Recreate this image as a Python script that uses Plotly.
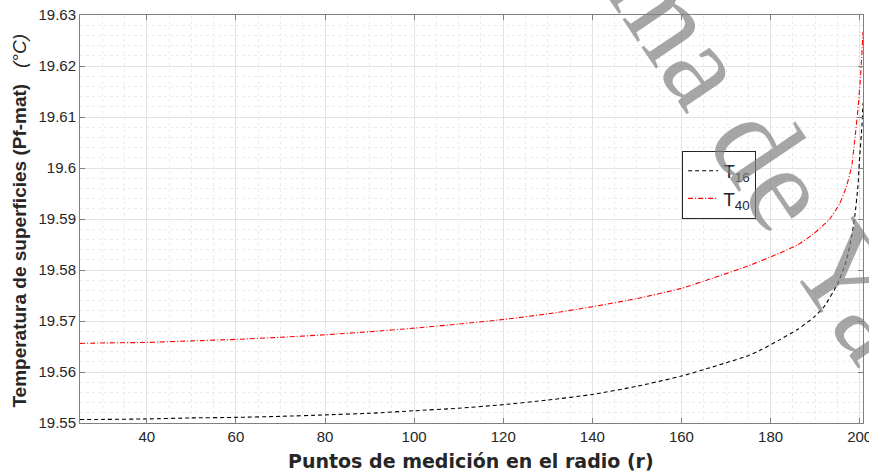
import plotly.graph_objects as go

# Radial measurement points and surface temperatures (°C)
r_t16 = [25, 30, 40, 50, 60, 70, 80, 90, 100, 110, 120, 130, 140, 150, 160, 167,
         170, 175, 178, 182, 186, 189.8, 192, 195, 197, 198.2, 198.9, 199.6, 200,
         200.5, 200.75]
t16 = [19.5507, 19.5507, 19.5508, 19.5510, 19.5511, 19.5513, 19.5516, 19.5519,
       19.5524, 19.5529, 19.5536, 19.5545, 19.5556, 19.5572, 19.5592, 19.5610,
       19.5618, 19.5632, 19.5644, 19.5663, 19.5683, 19.5708, 19.5728, 19.5772,
       19.5818, 19.5866, 19.5905, 19.5963, 19.6022, 19.6081, 19.6127]

r_t40 = [25, 30, 40, 50, 60, 70, 80, 90, 100, 110, 120, 130, 140, 150, 160, 167,
         175, 182, 186, 189.5, 193.3, 195.5, 197, 198.2, 198.9, 199.6, 200.2, 200.5,
         200.75]
t40 = [19.5656, 19.5657, 19.5658, 19.5661, 19.5664, 19.5668, 19.5673, 19.5679,
       19.5686, 19.5694, 19.5703, 19.5714, 19.5728, 19.5744, 19.5764, 19.5784,
       19.5808, 19.5833, 19.5849, 19.5870, 19.5900, 19.5930, 19.5963, 19.6003,
       19.6055, 19.6114, 19.6179, 19.6225, 19.6267]

x_ticks = [40, 60, 80, 100, 120, 140, 160, 180, 200]
y_ticks = [19.55, 19.56, 19.57, 19.58, 19.59, 19.60, 19.61, 19.62, 19.63]
y_ticktext = ["19.55", "19.56", "19.57", "19.58", "19.59", "19.6", "19.61", "19.62", "19.63"]

FONT = "Liberation Sans, Arial, sans-serif"
AXIS_COLOR = "#808080"

fig = go.Figure()
fig.add_trace(go.Scatter(
    x=r_t16, y=t16, mode="lines", name="T<sub>16</sub>",
    line=dict(color="black", width=1.1, dash="4px,3px", shape="spline", smoothing=0.5),
))
fig.add_trace(go.Scatter(
    x=r_t40, y=t40, mode="lines", name="T<sub>40</sub>",
    line=dict(color="red", width=1.1, dash="5px,2px,1px,2px", shape="spline", smoothing=0.5),
))

axis_common = dict(
    showline=True, linecolor=AXIS_COLOR, linewidth=1, mirror="ticks",
    ticks="inside", ticklen=5, tickcolor=AXIS_COLOR, tickwidth=1,
    showgrid=True, gridcolor="#e3e3e3", gridwidth=1, zeroline=False,
    tickfont=dict(family=FONT, size=15, color="#262626"),
    ticklabeloverflow="allow", automargin=False,
)

fig.update_xaxes(
    range=[25, 200.75], tickvals=x_ticks,
    minor=dict(dtick=5, showgrid=True, gridcolor="#ececec", griddash="dot", ticks=""),
    **axis_common,
)
fig.update_yaxes(
    range=[19.55, 19.63], tickvals=y_ticks, ticktext=y_ticktext,
    minor=dict(dtick=0.002, showgrid=True, gridcolor="#ececec", griddash="dot", ticks=""),
    **axis_common,
)

fig.update_layout(
    width=869, height=471,
    margin=dict(l=80, r=6, t=15, b=48, autoexpand=False),
    paper_bgcolor="white", plot_bgcolor="white",
    showlegend=True,
    legend=dict(
        x=0.769, y=0.667, xanchor="left", yanchor="top",
        bgcolor="white", bordercolor="#262626", borderwidth=1,
        font=dict(family=FONT, size=19, color="#262626"),
        itemwidth=30, tracegroupgap=0,
    ),
    annotations=[
        dict(
            text="<b>Puntos de medición en el radio (r)</b>",
            xref="paper", yref="paper", x=0.499, y=-0.0935,
            xanchor="center", yanchor="middle", showarrow=False,
            font=dict(family="DejaVu Sans, sans-serif", size=19, color="#262626"),
        ),
        dict(
            text="<b>Temperatura de superficies (Pf-mat)</b>   <i>(°C)</i>",
            xref="paper", yref="paper", x=-0.0774, y=0.497,
            xanchor="center", yanchor="middle", showarrow=False, textangle=-90,
            font=dict(family=FONT, size=19, color="#262626"),
        ),
        dict(
            text="ma de Ya",
            xref="paper", yref="paper", x=0.8747, y=0.652,
            xanchor="center", yanchor="middle", showarrow=False, textangle=56,
            font=dict(family="Liberation Serif, Times New Roman, serif", size=124,
                      color="rgba(128,128,128,0.7)"),
        ),
    ],
)

fig.write_html("out.html")
